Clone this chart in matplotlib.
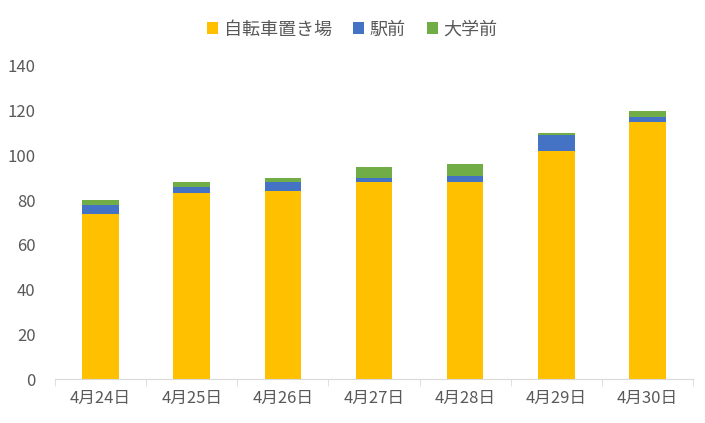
import matplotlib
matplotlib.use("Agg")
import matplotlib.pyplot as plt
import numpy as np

plt.rcParams['font.family'] = ['Noto Sans CJK JP', 'DejaVu Sans']

categories = ["4月24日", "4月25日", "4月26日", "4月27日", "4月28日", "4月29日", "4月30日"]
bike = [74, 83, 84, 88, 88, 102, 115]
station = [4, 3, 4, 2, 3, 7, 2]
univ = [2, 2, 2, 5, 5, 1, 3]
series_names = ["自転車置き場", "駅前", "大学前"]
colors = ["#FFC000", "#4472C4", "#70AD47"]

fig = plt.figure(figsize=(7.05, 4.23), dpi=100)
ax = fig.add_axes([0.078, 0.104, 0.905, 0.740])
x = np.arange(len(categories))
w = 0.4
b1 = ax.bar(x, bike, w, color=colors[0], label=series_names[0])
b2 = ax.bar(x, station, w, bottom=bike, color=colors[1], label=series_names[1])
bottom2 = np.array(bike) + np.array(station)
b3 = ax.bar(x, univ, w, bottom=bottom2, color=colors[2], label=series_names[2])

ax.set_xlim(-0.5, len(categories) - 0.5)
ax.set_ylim(0, 140)
ax.set_yticks(range(0, 141, 20))
for s in ["top", "right", "left"]:
    ax.spines[s].set_visible(False)
ax.spines["bottom"].set_color("#D9D9D9")
ax.tick_params(axis="y", length=0, labelsize=12, labelcolor="#595959", pad=14)
ax.set_xticks(x)
ax.set_xticklabels(categories, fontsize=12, color="#595959")
ax.tick_params(axis="x", which="major", length=0, pad=8)
ax.set_xticks(np.arange(-0.5, len(categories), 1), minor=True)
ax.tick_params(axis="x", which="minor", length=5, color="#D9D9D9", direction="out")

leg = fig.legend(handles=[b1, b2, b3], labels=series_names, loc="upper center",
                 bbox_to_anchor=(0.5, 0.99), ncol=3, frameon=False, fontsize=13,
                 handlelength=0.6, handleheight=0.6, handletextpad=0.3, columnspacing=1.2)
for t in leg.get_texts():
    t.set_color("#595959")

fig.savefig("out.png", dpi=100)
